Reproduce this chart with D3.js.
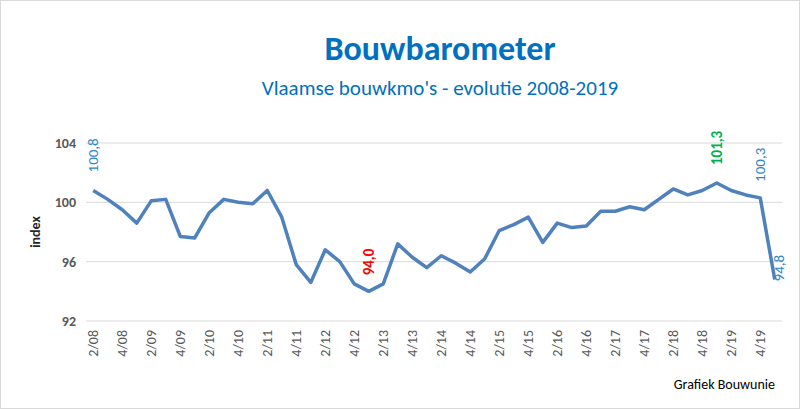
<!DOCTYPE html>
<html><head><meta charset="utf-8">
<script src="https://cdn.jsdelivr.net/npm/d3@7"></script>
<style>body{margin:0;background:#fff;font-family:Calibri,Carlito,Lato,"Liberation Sans",Arial,sans-serif}</style>
</head><body><div id="viz"></div>
<script>
const quarters = [];
for (let y = 2008; y <= 2020; y++) for (let q = 1; q <= 4; q++) {
  if ((y === 2008 && q < 2) || (y === 2020 && q > 1)) continue;
  quarters.push(q + "/" + String(y).slice(2));
}
const values = [100.8,100.2,99.5,98.6,100.1,100.2,97.7,97.6,99.3,100.2,100.0,99.9,100.8,99.0,95.8,94.6,
  96.8,96.0,94.5,94.0,94.5,97.2,96.3,95.6,96.4,95.9,95.3,96.2,98.1,98.5,99.0,97.3,
  98.6,98.3,98.4,99.4,99.4,99.7,99.5,100.2,100.9,100.5,100.8,101.3,100.8,100.5,100.3,94.8];
const yTicks = [92, 96, 100, 104];
const annotations = [
  {i: 0, text: "100,8", color: "#2E86C8", bold: false, dy: -18},
  {i: 19, text: "94,0", color: "#FF0000", bold: true, dy: -16},
  {i: 43, text: "101,3", color: "#00B050", bold: true, dy: -18},
  {i: 46, text: "100,3", color: "#2E86C8", bold: false, dy: -16},
  {i: 47, text: "94,8", color: "#2E86C8", bold: false, dy: 2, dx: 4}
];

const W = 800, H = 409;
const m = {left: 86, right: 782, top: 143, bottom: 321};
const svg = d3.select("#viz").append("svg").attr("width", W).attr("height", H);
svg.append("rect").attr("x", 0.5).attr("y", 0.5).attr("width", W - 1).attr("height", H - 1)
  .attr("fill", "#fff").attr("stroke", "#d9d9d9");

const x = d3.scalePoint().domain(quarters).range([m.left, m.right]).padding(0.5);
const y = d3.scaleLinear().domain([92, 104]).range([m.bottom, m.top]);

svg.append("g").selectAll("line").data(yTicks).join("line")
  .attr("x1", m.left).attr("x2", m.right).attr("y1", d => y(d)).attr("y2", d => y(d))
  .attr("stroke", "#d9d9d9").attr("stroke-width", 1);

svg.append("g").selectAll("text").data(yTicks).join("text")
  .attr("x", 76).attr("y", d => y(d)).attr("dy", "0.35em").attr("text-anchor", "end")
  .attr("font-size", 14).attr("font-weight", "bold").attr("fill", "#595959").text(d => d);

svg.append("g").selectAll("text").data(quarters.filter((d, i) => i % 2 === 0)).join("text")
  .attr("transform", d => `translate(${x(d) + 5},330) rotate(-90)`)
  .attr("text-anchor", "end").attr("font-size", 14).attr("fill", "#595959").text(d => d);

svg.append("text").attr("transform", "translate(40,232) rotate(-90)").attr("text-anchor", "middle")
  .attr("font-size", 14).attr("font-weight", "bold").attr("fill", "#262626").text("index");

const line = d3.line().x((d, i) => x(quarters[i])).y(d => y(d));
svg.append("path").datum(values).attr("d", line).attr("fill", "none")
  .attr("stroke", "#4F81BD").attr("stroke-width", 3.5).attr("stroke-linejoin", "round");

svg.append("g").selectAll("text").data(annotations).join("text")
  .attr("transform", d => `translate(${x(quarters[d.i]) + 5 + (d.dx || 0)},${y(values[d.i]) + d.dy}) rotate(-90)`)
  .attr("text-anchor", "start")
  .attr("font-size", 15).attr("font-weight", d => d.bold ? "bold" : "normal")
  .attr("fill", d => d.color).text(d => d.text);

svg.append("text").attr("x", 440).attr("y", 60).attr("text-anchor", "middle")
  .attr("font-size", 34).attr("font-weight", "bold").attr("fill", "#0070C0").text("Bouwbarometer");
svg.append("text").attr("x", 440).attr("y", 95).attr("text-anchor", "middle")
  .attr("font-size", 21).attr("fill", "#0070C0").text("Vlaamse bouwkmo's - evolutie 2008-2019");
svg.append("text").attr("x", 775).attr("y", 389).attr("text-anchor", "end")
  .attr("font-size", 14).attr("fill", "#000").text("Grafiek Bouwunie");
</script></body></html>
